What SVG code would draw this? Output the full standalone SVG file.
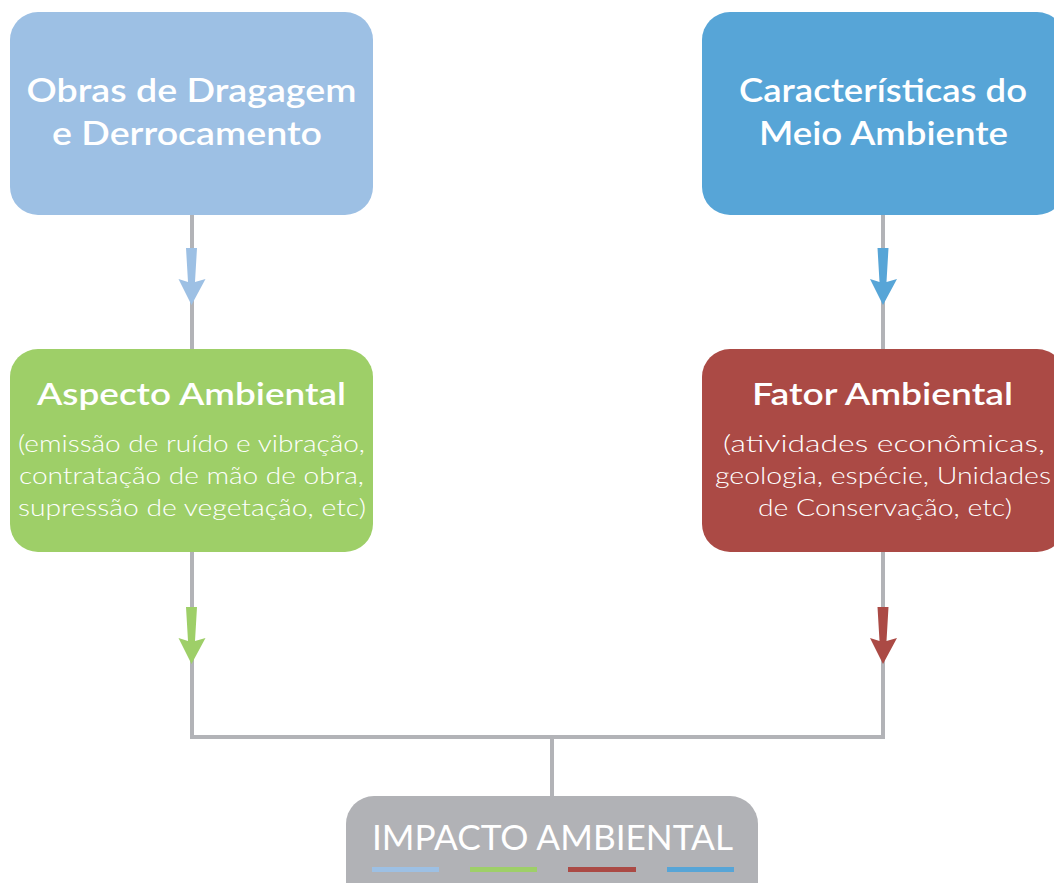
<svg xmlns="http://www.w3.org/2000/svg" width="1054" height="883" viewBox="0 0 1054 883">
<style>
.t{font-family:Lato,"Open Sans","Liberation Sans",sans-serif;fill:#fff;text-anchor:middle}
.h{font-size:33px;font-weight:600}
.h2{font-size:31px;font-weight:600}
.s{font-size:24px;font-weight:300}
.i{font-size:35px;font-weight:400}
.ln{stroke:#B2B3B7;stroke-width:4;fill:none}
</style>
<defs>
<polygon id="ah" points="-5.5,0 5.5,0 3.5,34 14,31 0,57 -13,31 -3.5,34"/>
</defs>
<rect width="1054" height="883" fill="#fff"/>
<g id="connectors">
<path class="ln" d="M192,215V349M192,552V737H883V552M883,215V349M552,737V796"/>
<use href="#ah" x="191.5" y="248" fill="#9DC0E4"/>
<use href="#ah" x="191.5" y="607" fill="#9ECF68"/>
<use href="#ah" x="883" y="248" fill="#57A5D7"/>
<use href="#ah" x="883" y="607" fill="#AB4A45"/>
</g>
<g id="obras">
<rect x="10" y="12" width="363" height="203" rx="28" fill="#9DC0E4"/>
<text class="t h" x="191.5" y="102" textLength="330" lengthAdjust="spacingAndGlyphs">Obras de Dragagem</text>
<text class="t h" x="187" y="145" textLength="270" lengthAdjust="spacingAndGlyphs">e Derrocamento</text>
</g>
<g id="caracteristicas">
<rect x="702" y="12" width="363" height="203" rx="28" fill="#57A5D7"/>
<text class="t h" x="883" y="102" textLength="288" lengthAdjust="spacingAndGlyphs">Características do</text>
<text class="t h" x="883.5" y="145" textLength="249" lengthAdjust="spacingAndGlyphs">Meio Ambiente</text>
</g>
<g id="aspecto">
<rect x="10" y="349" width="363" height="203" rx="28" fill="#9ECF68"/>
<text class="t h2" x="191.5" y="405" textLength="309" lengthAdjust="spacingAndGlyphs">Aspecto Ambiental</text>
<text class="t s" x="191.5" y="452" textLength="347" lengthAdjust="spacingAndGlyphs">(emissão de ruído e vibração,</text>
<text class="t s" x="191.5" y="484" textLength="345" lengthAdjust="spacingAndGlyphs">contratação de mão de obra,</text>
<text class="t s" x="192" y="516" textLength="348" lengthAdjust="spacingAndGlyphs">supressão de vegetação, etc)</text>
</g>
<g id="fator">
<rect x="702" y="349" width="363" height="203" rx="28" fill="#AB4A45"/>
<text class="t h2" x="882.5" y="405" textLength="261" lengthAdjust="spacingAndGlyphs">Fator Ambiental</text>
<text class="t s" x="884" y="452" textLength="322" lengthAdjust="spacingAndGlyphs">(atividades econômicas,</text>
<text class="t s" x="883" y="484" textLength="336" lengthAdjust="spacingAndGlyphs">geologia, espécie, Unidades</text>
<text class="t s" x="885" y="516" textLength="254" lengthAdjust="spacingAndGlyphs">de Conservação, etc)</text>
</g>
<g id="impacto">
<rect x="346" y="796" width="412" height="120" rx="28" fill="#B1B2B6"/>
<text class="t i" x="552.5" y="850" textLength="361" lengthAdjust="spacingAndGlyphs">IMPACTO AMBIENTAL</text>
<rect x="372" y="867" width="67" height="5" fill="#9DC0E4"/>
<rect x="470" y="867" width="67" height="5" fill="#9ECF68"/>
<rect x="568" y="867" width="68" height="5" fill="#AB4A45"/>
<rect x="667" y="867" width="67" height="5" fill="#57A5D7"/>
</g>
</svg>
